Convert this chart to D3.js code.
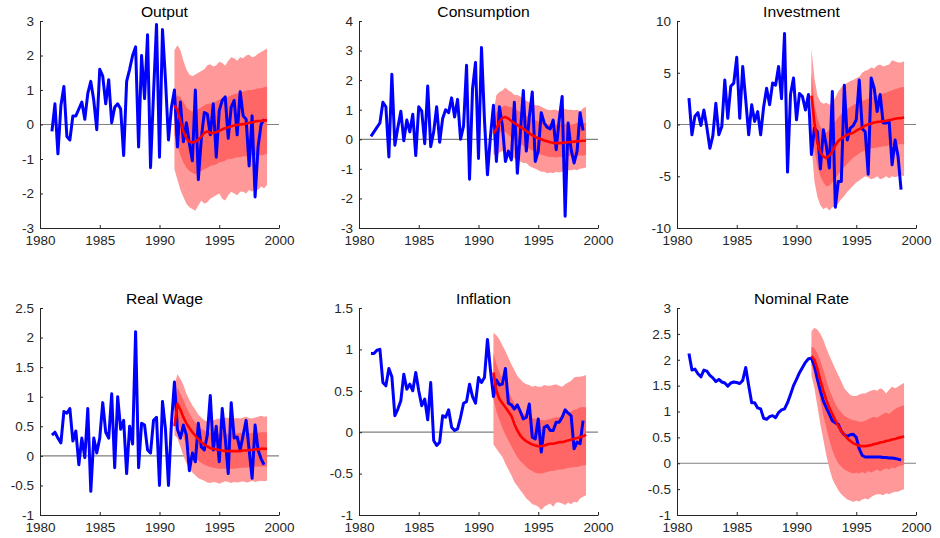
<!DOCTYPE html>
<html>
<head>
<meta charset="utf-8">
<script src="https://cdn.jsdelivr.net/npm/d3@7"></script>
<style>
  body { margin: 0; background: #fff; }
  svg { display: block; font-family: "Liberation Sans", Arial, sans-serif; }
  .axis path, .axis line { stroke: #262626; stroke-width: 1; }
  .axis text { fill: #262626; font-size: 13.5px; }
  .title { font-size: 14px; fill: #000; text-anchor: middle;
           transform-box: fill-box; transform-origin: 50% 50%; transform: scaleX(1.12); }
</style>
</head>
<body>
<div id="graph"></div>
<script>
// quarterly history 1981Q1..1998Q4, forecast 1991Q2..1999Q1
let histStart = 1981, foreStart = 1991.25;

let xTicks = [1980, 1985, 1990, 1995, 2000];

let titles = ["Output", "Consumption", "Investment", "Real Wage", "Inflation", "Nominal Rate"];
let yDomains = [[-3, 3], [-3, 4], [-10, 10], [-1, 2.5], [-1, 1.5], [-1, 3]];
let yTicks = [
  [-3, -2, -1, 0, 1, 2, 3],
  [-3, -2, -1, 0, 1, 2, 3, 4],
  [-10, -5, 0, 5, 10],
  [-1, -0.5, 0, 0.5, 1, 1.5, 2, 2.5],
  [-1, -0.5, 0, 0.5, 1, 1.5],
  [-1, -0.5, 0, 0.5, 1, 1.5, 2, 2.5, 3]
];

// ---- Output
let outputActual = [-0.2,0.6,-0.85,0.55,1.1,-0.35,-0.45,0.25,0.25,0.45,0.65,0.15,0.9,1.25,0.7,-0.15,1.6,1.4,0.6,1.3,0.05,0.5,0.6,0.45,-0.9,1.25,1.6,2.0,2.25,-0.65,2.0,0.75,2.6,-1.25,0.9,2.9,-0.95,2.75,1.3,-0.45,0.5,1.0,-0.65,0.65,-0.5,0.05,-0.55,-1.05,1.0,-1.6,-0.4,0.35,0.3,-0.3,0.6,-0.95,0.4,0.7,0.8,-0.4,0.5,0.7,-0.3,0.95,0.25,0.15,-1.2,0.25,-2.1,-0.65,0.0,0.15];
let outputMedian = [0.55,0.42,0.1,-0.2,-0.4,-0.5,-0.52,-0.5,-0.44,-0.35,-0.24,-0.2,-0.24,-0.25,-0.22,-0.18,-0.14,-0.11,-0.08,-0.05,-0.03,-0.01,0.0,0.01,0.03,0.05,0.06,0.09,0.1,0.1,0.12,0.12];
let outputOuterHi = [2.15,2.3,2.15,1.85,1.6,1.45,1.4,1.45,1.5,1.55,1.6,1.72,1.75,1.68,1.72,1.82,1.78,1.7,1.85,1.95,1.92,1.85,1.95,1.92,2.0,2.02,1.95,1.98,2.05,2.1,2.15,2.2];
let outputOuterLo = [-1.3,-1.6,-1.9,-2.1,-2.3,-2.4,-2.45,-2.5,-2.35,-2.2,-2.3,-2.25,-2.15,-2.1,-2.05,-2.0,-2.15,-2.2,-2.05,-1.95,-2.0,-2.05,-1.95,-1.95,-2.0,-1.9,-1.95,-1.85,-1.9,-1.8,-1.85,-1.75];
let outputInnerHi = [0.7,0.85,0.8,0.65,0.5,0.42,0.38,0.4,0.45,0.5,0.55,0.6,0.6,0.62,0.68,0.72,0.75,0.75,0.8,0.85,0.88,0.9,0.92,0.95,0.98,1.0,1.0,1.02,1.05,1.05,1.08,1.1];
let outputInnerLo = [-0.3,-0.6,-0.9,-1.1,-1.25,-1.35,-1.4,-1.45,-1.4,-1.35,-1.3,-1.25,-1.2,-1.18,-1.15,-1.1,-1.08,-1.05,-1.0,-1.0,-0.98,-0.95,-0.95,-0.92,-0.92,-0.9,-0.9,-0.9,-0.88,-0.9,-0.88,-0.85];

// ---- Consumption
let consActual = [0.1,0.25,0.4,0.55,1.25,1.1,-0.6,2.2,-0.2,0.4,0.95,-0.05,0.65,0.25,0.85,-0.55,1.1,0.95,-0.15,1.8,-0.25,0.25,1.1,-0.1,0.7,1.0,0.9,1.4,0.75,1.35,0.0,0.45,2.5,-1.35,1.7,2.6,-0.65,3.1,0.65,-1.2,0.1,1.15,-0.75,1.1,0.45,-0.75,-0.4,-0.7,1.25,-1.15,0.2,1.65,-0.4,0.75,1.6,-0.75,-0.4,0.9,0.55,0.4,0.35,0.65,-0.35,0.65,1.45,-2.6,0.55,-0.35,-0.8,-0.4,0.9,0.3];
let consMedian = [0.2,0.35,0.6,0.72,0.75,0.7,0.62,0.55,0.48,0.42,0.35,0.28,0.2,0.14,0.08,0.04,0.0,-0.04,-0.07,-0.1,-0.12,-0.13,-0.13,-0.12,-0.11,-0.1,-0.09,-0.08,-0.07,-0.06,-0.05,-0.05];
let consOuterHi = [0.9,1.5,1.6,1.65,1.75,1.65,1.6,1.5,1.5,1.45,1.35,1.3,1.25,1.2,1.15,1.15,1.1,1.05,1.0,0.98,1.0,1.0,0.95,1.0,1.02,1.0,1.0,0.98,1.0,0.95,1.05,1.1];
let consOuterLo = [-0.5,-0.6,-0.45,-0.4,-0.5,-0.55,-0.6,-0.65,-0.7,-0.75,-0.8,-0.8,-0.9,-0.95,-1.0,-1.05,-1.1,-1.1,-1.15,-1.12,-1.15,-1.1,-1.12,-1.1,-1.05,-1.05,-1.05,-1.02,-1.05,-1.0,-0.98,-0.95];
let consInnerHi = [0.5,0.9,1.05,1.1,1.15,1.1,1.08,1.02,0.98,0.92,0.85,0.8,0.75,0.7,0.65,0.6,0.58,0.55,0.52,0.52,0.5,0.5,0.5,0.5,0.52,0.52,0.5,0.52,0.55,0.52,0.55,0.55];
let consInnerLo = [-0.05,0.05,0.2,0.3,0.25,0.15,0.05,0.0,-0.1,-0.15,-0.22,-0.28,-0.32,-0.38,-0.42,-0.48,-0.52,-0.55,-0.58,-0.6,-0.6,-0.62,-0.6,-0.6,-0.58,-0.58,-0.56,-0.55,-0.56,-0.55,-0.55,-0.52];

// ---- Investment
let invActual = [2.55,-1.0,0.8,1.15,-0.1,1.4,-0.3,-2.3,-1.1,2.05,-1.0,-0.2,4.3,0.6,3.7,4.0,6.5,0.6,5.6,2.4,-1.0,1.9,0.3,1.25,-1.0,1.7,3.5,1.9,4.0,3.8,5.6,2.5,8.8,-4.6,2.9,4.5,0.45,3.0,2.7,1.4,2.9,-2.9,-0.35,-0.7,-4.3,-0.5,-2.1,-4.2,3.2,-8.0,-5.5,-5.5,3.8,-1.5,-0.35,-0.1,0.45,4.3,-0.4,-0.7,-4.8,4.5,3.5,1.25,2.9,0.15,0.15,0.3,-3.9,-1.5,-3.1,-6.3];
let invMedian = [2.8,0.2,-1.8,-2.7,-3.1,-3.25,-3.0,-2.6,-2.0,-1.6,-1.35,-1.15,-1.0,-0.9,-0.8,-0.6,-0.45,-0.3,-0.1,0.0,0.1,0.2,0.25,0.28,0.32,0.36,0.42,0.48,0.55,0.6,0.62,0.68];
let invOuterHi = [7.3,4.5,2.8,2.2,2.0,2.1,1.9,2.2,2.6,3.2,3.6,3.9,4.0,4.2,4.3,4.5,4.6,5.0,5.2,5.3,5.5,5.4,5.7,5.8,5.6,5.7,5.8,6.2,6.1,6.0,6.0,6.1];
let invOuterLo = [-2.0,-5.5,-7.0,-7.8,-8.2,-8.0,-8.3,-8.0,-7.9,-7.6,-7.2,-6.9,-6.5,-6.2,-5.9,-5.6,-5.4,-5.2,-5.0,-5.1,-5.3,-5.2,-5.0,-5.3,-5.2,-5.0,-5.2,-5.0,-5.1,-5.0,-4.9,-5.0];
let invInnerHi = [5.0,2.0,0.6,-0.2,-0.6,-0.8,-0.5,-0.2,0.3,0.7,1.0,1.3,1.5,1.7,1.9,2.0,2.2,2.3,2.4,2.5,2.6,2.7,2.8,2.9,3.0,3.1,3.2,3.3,3.4,3.5,3.6,3.6];
let invInnerLo = [0.5,-2.5,-4.0,-5.0,-5.6,-6.0,-5.9,-5.6,-5.2,-4.8,-4.4,-4.1,-3.8,-3.5,-3.2,-3.0,-2.8,-2.6,-2.5,-2.4,-2.3,-2.3,-2.2,-2.2,-2.1,-2.1,-2.0,-2.0,-2.0,-1.9,-1.9,-1.9];

// ---- Real Wage
let wageActual = [0.35,0.4,0.3,0.22,0.75,0.72,0.8,0.25,0.42,-0.15,0.3,-0.03,0.8,-0.6,0.3,0.05,0.3,0.9,0.4,0.3,1.05,-0.2,1.0,0.45,0.6,-0.3,0.5,0.2,2.1,-0.2,0.55,0.52,0.1,0.05,0.6,0.65,-0.5,0.92,0.45,-0.5,0.55,1.25,0.45,0.3,0.52,0.35,-0.25,0.05,-0.1,0.55,0.15,0.1,0.35,1.02,0.1,0.5,-0.1,0.8,0.3,-0.3,0.9,0.3,0.32,0.1,0.35,0.6,0.1,-0.38,0.52,0.1,-0.05,-0.15];
let wageMedian = [0.5,0.88,0.78,0.65,0.55,0.47,0.4,0.34,0.28,0.23,0.19,0.16,0.13,0.12,0.11,0.1,0.09,0.08,0.08,0.08,0.08,0.08,0.08,0.09,0.09,0.1,0.1,0.11,0.11,0.12,0.12,0.12];
let wageOuterHi = [1.2,1.38,1.3,1.2,1.05,0.95,0.85,0.78,0.7,0.65,0.6,0.58,0.6,0.6,0.62,0.63,0.62,0.65,0.64,0.65,0.63,0.64,0.63,0.65,0.66,0.64,0.63,0.65,0.66,0.68,0.66,0.67];
let wageOuterLo = [0.35,0.3,0.15,0.0,-0.12,-0.2,-0.28,-0.33,-0.38,-0.4,-0.42,-0.45,-0.46,-0.44,-0.45,-0.47,-0.45,-0.43,-0.44,-0.46,-0.44,-0.45,-0.44,-0.43,-0.45,-0.44,-0.42,-0.44,-0.43,-0.42,-0.43,-0.42];
let wageInnerHi = [0.9,1.15,1.05,0.95,0.82,0.72,0.63,0.56,0.5,0.46,0.43,0.4,0.39,0.38,0.38,0.37,0.38,0.38,0.37,0.38,0.38,0.38,0.39,0.38,0.38,0.38,0.39,0.38,0.39,0.4,0.4,0.4];
let wageInnerLo = [0.5,0.6,0.45,0.32,0.2,0.1,0.03,-0.03,-0.08,-0.12,-0.15,-0.17,-0.19,-0.2,-0.21,-0.22,-0.22,-0.22,-0.23,-0.22,-0.22,-0.21,-0.2,-0.2,-0.2,-0.19,-0.19,-0.18,-0.18,-0.18,-0.18,-0.18];

// ---- Inflation
let inflActual = [0.95,0.95,0.99,1.0,0.6,0.56,0.77,0.67,0.2,0.28,0.38,0.7,0.52,0.58,0.5,0.72,0.5,0.32,0.4,0.15,0.6,-0.1,-0.16,-0.12,0.2,0.18,0.27,0.06,0.02,0.04,0.18,0.35,0.37,0.58,0.43,0.35,0.66,0.6,0.66,1.12,0.75,0.43,0.63,0.57,0.58,0.77,0.35,0.33,0.28,0.33,0.25,0.16,0.18,0.34,-0.06,-0.08,0.16,-0.24,0.06,0.08,0.02,0.02,0.12,0.12,0.18,0.27,0.23,0.2,-0.2,-0.12,-0.14,0.14];
let inflMedian = [0.72,0.5,0.4,0.35,0.3,0.25,0.2,0.1,0.02,-0.04,-0.08,-0.11,-0.13,-0.15,-0.16,-0.17,-0.17,-0.16,-0.15,-0.14,-0.14,-0.13,-0.12,-0.12,-0.11,-0.1,-0.09,-0.08,-0.07,-0.06,-0.05,-0.03];
let inflOuterHi = [1.2,1.17,1.12,1.05,0.98,0.9,0.82,0.75,0.68,0.64,0.6,0.58,0.57,0.55,0.56,0.55,0.55,0.57,0.56,0.56,0.57,0.58,0.56,0.55,0.58,0.6,0.62,0.66,0.67,0.67,0.68,0.69];
let inflOuterLo = [-0.15,-0.2,-0.25,-0.3,-0.38,-0.45,-0.52,-0.6,-0.65,-0.7,-0.75,-0.8,-0.83,-0.87,-0.88,-0.9,-0.94,-0.9,-0.88,-0.86,-0.9,-0.85,-0.85,-0.86,-0.88,-0.85,-0.87,-0.84,-0.85,-0.8,-0.78,-0.76];
let inflInnerHi = [0.95,0.82,0.72,0.65,0.58,0.5,0.42,0.35,0.3,0.26,0.23,0.2,0.19,0.17,0.16,0.15,0.15,0.14,0.15,0.16,0.17,0.18,0.18,0.2,0.22,0.24,0.25,0.27,0.28,0.3,0.3,0.3];
let inflInnerLo = [0.4,0.25,0.15,0.05,-0.03,-0.1,-0.17,-0.24,-0.3,-0.35,-0.38,-0.42,-0.45,-0.47,-0.49,-0.5,-0.5,-0.49,-0.48,-0.47,-0.47,-0.46,-0.45,-0.45,-0.44,-0.43,-0.43,-0.42,-0.42,-0.41,-0.4,-0.4];

// ---- Nominal Rate
let rateActual = [2.12,1.8,1.82,1.73,1.67,1.8,1.78,1.7,1.65,1.58,1.62,1.57,1.55,1.49,1.55,1.57,1.56,1.54,1.6,1.85,1.5,1.17,1.17,1.07,1.05,0.87,0.85,0.9,0.92,0.88,0.98,1.03,1.05,1.17,1.33,1.5,1.62,1.75,1.85,1.95,2.02,2.03,1.88,1.62,1.4,1.2,1.07,0.95,0.82,0.78,0.75,0.62,0.55,0.52,0.55,0.56,0.5,0.28,0.15,0.12,0.12,0.12,0.12,0.12,0.12,0.11,0.11,0.1,0.1,0.09,0.08,0.06];
let rateMedian = [2.07,2.0,1.82,1.6,1.4,1.22,1.07,0.95,0.83,0.72,0.62,0.55,0.48,0.43,0.39,0.36,0.34,0.33,0.33,0.34,0.35,0.37,0.38,0.4,0.41,0.43,0.44,0.46,0.47,0.49,0.5,0.52];
let rateOuterHi = [2.55,2.62,2.58,2.5,2.38,2.22,2.08,1.95,1.82,1.7,1.58,1.45,1.38,1.32,1.3,1.3,1.33,1.35,1.35,1.38,1.4,1.42,1.4,1.45,1.42,1.35,1.42,1.48,1.45,1.48,1.52,1.55];
let rateOuterLo = [1.7,1.45,1.1,0.75,0.45,0.15,-0.1,-0.3,-0.42,-0.52,-0.6,-0.65,-0.7,-0.72,-0.75,-0.72,-0.74,-0.7,-0.68,-0.7,-0.65,-0.62,-0.6,-0.6,-0.62,-0.58,-0.6,-0.57,-0.55,-0.55,-0.52,-0.5];
let rateInnerHi = [2.25,2.22,2.12,1.98,1.8,1.6,1.42,1.28,1.15,1.05,0.98,0.92,0.88,0.85,0.83,0.82,0.8,0.8,0.82,0.85,0.88,0.9,0.88,0.92,0.95,0.98,0.95,1.0,1.05,1.08,1.1,1.12];
let rateInnerLo = [1.9,1.75,1.5,1.2,0.92,0.68,0.45,0.25,0.1,0.0,-0.07,-0.12,-0.15,-0.18,-0.2,-0.18,-0.2,-0.17,-0.2,-0.15,-0.18,-0.15,-0.12,-0.16,-0.12,-0.1,-0.12,-0.08,-0.1,-0.06,-0.05,-0.03];

document.addEventListener('DOMContentLoaded', () => {
  let width = 940, height = 538;
  let colLeft = [40, 359, 677], plotW = 239;
  let rowTop = [21, 308], plotH = 207;

  let panels = [
    {actual: outputActual, median: outputMedian, oHi: outputOuterHi, oLo: outputOuterLo, iHi: outputInnerHi, iLo: outputInnerLo},
    {actual: consActual, median: consMedian, oHi: consOuterHi, oLo: consOuterLo, iHi: consInnerHi, iLo: consInnerLo},
    {actual: invActual, median: invMedian, oHi: invOuterHi, oLo: invOuterLo, iHi: invInnerHi, iLo: invInnerLo},
    {actual: wageActual, median: wageMedian, oHi: wageOuterHi, oLo: wageOuterLo, iHi: wageInnerHi, iLo: wageInnerLo},
    {actual: inflActual, median: inflMedian, oHi: inflOuterHi, oLo: inflOuterLo, iHi: inflInnerHi, iLo: inflInnerLo},
    {actual: rateActual, median: rateMedian, oHi: rateOuterHi, oLo: rateOuterLo, iHi: rateInnerHi, iLo: rateInnerLo}
  ];

  let svg = d3.select("#graph").append('svg').attr("width", width).attr("height", height);

  panels.forEach((p, n) => {
    let left = colLeft[n % 3], top = rowTop[Math.floor(n / 3)];
    let x = d3.scaleLinear().domain([1980, 2000]).range([left, left + plotW]);
    let y = d3.scaleLinear().domain(yDomains[n]).range([top + plotH, top]);
    let g = svg.append("g");

    let hist = p.actual.map((v, i) => ({t: histStart + i * 0.25, v: v}));
    let fore = p.median.map((v, i) => ({t: foreStart + i * 0.25, m: v,
      oHi: p.oHi[i], oLo: p.oLo[i], iHi: p.iHi[i], iLo: p.iLo[i]}));

    // zero line
    g.append("line")
      .attr("x1", x(1980)).attr("x2", x(2000))
      .attr("y1", y(0)).attr("y2", y(0))
      .attr("stroke", "#808080").attr("stroke-width", 1.2);

    // fan bands
    g.append("path").datum(fore)
      .attr("fill", "#ff9999")
      .attr("d", d3.area().x(d => x(d.t)).y0(d => y(d.oLo)).y1(d => y(d.oHi)));
    g.append("path").datum(fore)
      .attr("fill", "#ff6666")
      .attr("d", d3.area().x(d => x(d.t)).y0(d => y(d.iLo)).y1(d => y(d.iHi)));

    // data
    g.append("path").datum(hist)
      .attr("fill", "none").attr("stroke", "#0000ff").attr("stroke-width", 3)
      .attr("stroke-linejoin", "round")
      .attr("d", d3.line().x(d => x(d.t)).y(d => y(d.v)));

    // median forecast
    g.append("path").datum(fore)
      .attr("fill", "none").attr("stroke", "#ff0000").attr("stroke-width", 2.6)
      .attr("stroke-linejoin", "round")
      .attr("d", d3.line().x(d => x(d.t)).y(d => y(d.m)));

    // axes, ticks point inwards
    g.append("g").attr("class", "axis")
      .attr("transform", "translate(0," + (top + plotH) + ")")
      .call(d3.axisBottom(x).tickValues(xTicks).tickFormat(d3.format("d"))
        .tickSizeInner(-3).tickSizeOuter(0).tickPadding(7));
    g.append("g").attr("class", "axis")
      .attr("transform", "translate(" + left + ",0)")
      .call(d3.axisLeft(y).tickValues(yTicks[n]).tickFormat(d => String(d))
        .tickSizeInner(-3).tickSizeOuter(0).tickPadding(6));

    g.append("text").attr("class", "title")
      .attr("x", left + plotW / 2 + 5).attr("y", top - 4)
      .text(titles[n]);
  });
});
</script>
</body>
</html>
